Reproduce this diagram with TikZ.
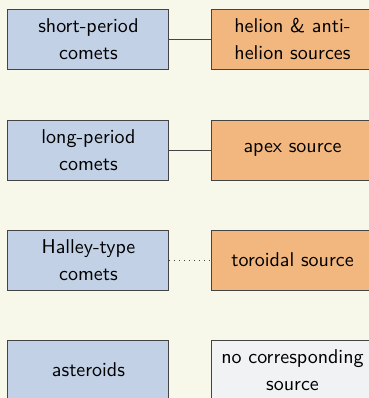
\documentclass[tikz,border=0pt]{standalone}
\usepackage{xcolor}
\definecolor{paper}{HTML}{F8F8EA}
\definecolor{bodyblue}{HTML}{C2D1E6}
\definecolor{srcorange}{HTML}{F1B77F}
\definecolor{nosrc}{HTML}{F1F2F4}
\definecolor{edge}{HTML}{444444}
\begin{document}
\begin{tikzpicture}[x=0.5pt, y=-0.5pt,
    box/.style={draw=edge, line width=0.5pt, minimum width=80.5pt, minimum height=30pt,
        inner sep=0pt, align=center, font=\sffamily\fontsize{10}{13.5}\selectfont},
    body/.style={box, fill=bodyblue},
    source/.style={box, fill=srcorange},
    link/.style={draw=edge, line width=0.5pt}]
        \fill[paper] (0,0) rectangle (369,398);
        \useasboundingbox (0,0) rectangle (369,398);
        \node[body] at (88.5, 39)   (SP) {short-period\\comets};
        \node[body] at (88.5, 150)  (LP) {long-period\\comets};
        \node[body] at (88.5, 260)  (HT) {Halley-type\\comets};
        \node[body] at (88.5, 370)  (AS) {asteroids};
        \node[source] at (292.5, 39)  (HA) {helion \& anti-\\helion sources};
        \node[source] at (292.5, 150) (AP) {apex source};
        \node[source] at (292.5, 260) (TO) {toroidal source};
        \node[box, fill=nosrc] at (292.5, 370) (NO) {no corresponding\\source};
        \draw[link] (SP) -- (HA);
        \draw[link] (LP) -- (AP);
        \draw[link, dotted] (HT) -- (TO);
\end{tikzpicture}
\end{document}
